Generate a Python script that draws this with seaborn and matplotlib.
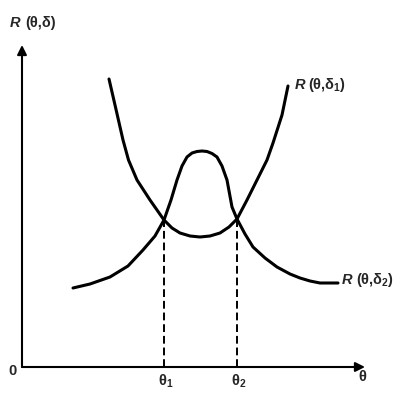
import numpy as np
import pandas as pd
import seaborn as sns
import matplotlib
matplotlib.use("Agg")
import matplotlib.pyplot as plt

# Risk curve of delta_1 (U shape)
theta_d1 = [8.7, 9.3, 10.1, 10.65, 11.5, 12.8, 14.2, 15.0, 15.8, 16.8, 17.8,
            18.8, 19.8, 20.7, 21.5, 22.5, 23.5, 24.5, 25.1, 26.0, 26.6]
risk_d1 = [28.8, 26.2, 22.7, 20.7, 18.7, 16.7, 14.7, 13.9, 13.4, 13.1, 13.0,
           13.1, 13.4, 14.0, 14.8, 16.7, 18.7, 20.7, 22.4, 25.2, 28.1]

# Risk curve of delta_2 (bump in the middle)
theta_d2 = [5.1, 6.8, 8.8, 10.6, 12.1, 13.3, 14.2, 14.9, 15.5, 16.0, 16.5,
            17.0, 17.5, 18.0, 18.5, 19.0, 19.5, 20.0, 20.5, 21.0, 21.5, 22.3,
            23.1, 24.3, 25.5, 26.8, 27.8, 28.8, 29.8, 31.6]
risk_d2 = [7.9, 8.3, 9.0, 10.1, 11.7, 13.1, 14.7, 16.7, 18.7, 20.1, 21.0,
           21.4, 21.55, 21.6, 21.55, 21.35, 21.0, 20.1, 18.7, 16.0, 14.8, 13.3,
           12.0, 10.9, 10.0, 9.3, 8.9, 8.6, 8.4, 8.4]

# Crossing points theta_1, theta_2 and the risk there
cross_theta = [14.2, 21.5]
cross_risk = [14.7, 14.8]
cross_labels = [r"θ$_1$", r"θ$_2$"]

sns.set_style("white")
plt.rcParams["font.family"] = ["Liberation Sans", "DejaVu Sans"]
plt.rcParams["mathtext.fontset"] = "custom"
plt.rcParams["mathtext.rm"] = "Liberation Sans:bold"
plt.rcParams["mathtext.it"] = "Liberation Sans:bold"

fig = plt.figure(figsize=(4.02, 4.08), dpi=100)
ax = fig.add_axes([0, 0, 1, 1])

d1 = pd.DataFrame({"theta": theta_d1, "risk": risk_d1})
d2 = pd.DataFrame({"theta": theta_d2, "risk": risk_d2})
sns.lineplot(data=d1, x="theta", y="risk", sort=False, color="black", lw=2.2, ax=ax)
sns.lineplot(data=d2, x="theta", y="risk", sort=False, color="black", lw=2.2, ax=ax)

# dashed drops to the theta axis
for t, r in zip(cross_theta, cross_risk):
    ax.plot([t, t], [0, r], color="black", lw=1.4, ls=(0, (4, 2)))

# axes with arrow heads
arrow = dict(arrowstyle="-|>", color="black", lw=1.5, mutation_scale=14,
             shrinkA=0, shrinkB=0)
ax.annotate("", xy=(0, 32.2), xytext=(0, 0), arrowprops=arrow)
ax.annotate("", xy=(34.3, 0), xytext=(0, 0), arrowprops=arrow)

# labels
fs = 10.5
ax.text(-1.2, 34.4, "R", fontsize=fs, weight="bold", style="italic", va="center")
ax.text(0.3, 34.4, "(θ,δ)", fontsize=fs, weight="bold", va="center")
ax.text(27.3, 28.2, "R", fontsize=fs, weight="bold", style="italic", va="center")
ax.text(28.6, 28.2, r"(θ,δ$_1$)", fontsize=fs, weight="bold", va="center")
ax.text(32.0, 8.7, "R", fontsize=fs, weight="bold", style="italic", va="center")
ax.text(33.4, 8.7, r"(θ,δ$_2$)", fontsize=fs, weight="bold", va="center")
ax.text(-0.95, -0.4, "0", fontsize=fs, weight="bold", ha="center", va="center")
ax.text(34.0, -1.0, "θ", fontsize=fs, weight="bold", ha="center", va="center")
for t, lab in zip(cross_theta, cross_labels):
    ax.text(t + 0.2, -1.4, lab, fontsize=fs, weight="bold", ha="center", va="center")

ax.set_xlim(-2.2, 38.0)
ax.set_ylim(-4.1, 36.7)
ax.set_xlabel("")
ax.set_ylabel("")
ax.set_xticks([])
ax.set_yticks([])
sns.despine(ax=ax, left=True, bottom=True)

fig.savefig("out.png", dpi=100)
